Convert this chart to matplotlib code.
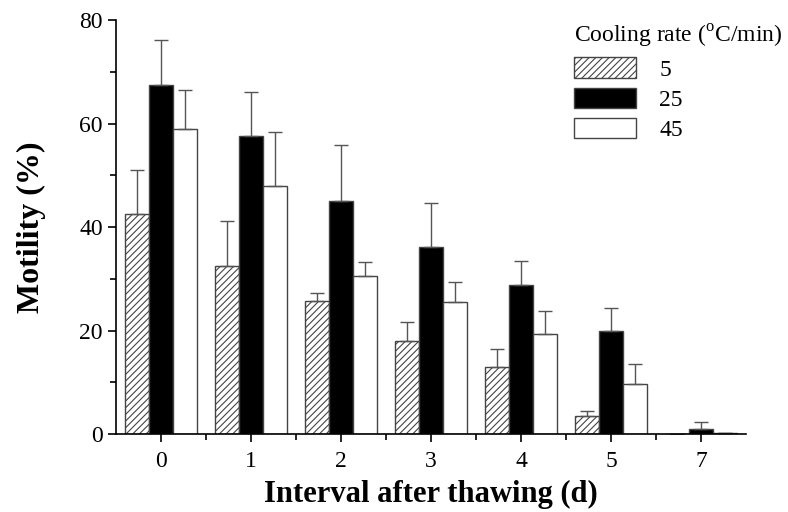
import numpy as np
import matplotlib.pyplot as plt

plt.rcParams['font.family'] = ['Liberation Serif', 'DejaVu Serif']
plt.rcParams['mathtext.fontset'] = 'custom'
plt.rcParams['mathtext.rm'] = 'Liberation Serif'
plt.rcParams['hatch.linewidth'] = 0.8

days = ['0', '1', '2', '3', '4', '5', '7']
rates = ['5', '25', '45']
mot_5 = [42.5, 32.5, 25.7, 18.0, 13.0, 3.5, 0.1]
mot_25 = [67.4, 57.5, 45.0, 36.1, 28.8, 20.0, 1.0]
mot_45 = [59.0, 48.0, 30.6, 25.6, 19.4, 9.6, 0.2]
err_5 = [8.5, 8.7, 1.5, 3.6, 3.4, 0.9, 0.0]
err_25 = [8.7, 8.6, 10.8, 8.5, 4.7, 4.3, 1.4]
err_45 = [7.5, 10.4, 2.6, 3.8, 4.4, 3.9, 0.0]

x = np.arange(len(days))
w = 0.267
edge = '#444444'

fig = plt.figure(figsize=(7.88, 5.12), dpi=100)
ax = fig.add_axes([0.147, 0.152, 0.8, 0.809])

ekw = dict(ecolor='#555555', elinewidth=1.0, capsize=5, capthick=1.0)
ax.bar(x - w, mot_5, w, color='white', edgecolor=edge, hatch='/////', linewidth=1.0,
       yerr=[np.zeros(len(x)), err_5], error_kw=ekw, label=rates[0])
ax.bar(x, mot_25, w, color='black', edgecolor=edge, linewidth=1.0,
       yerr=[np.zeros(len(x)), err_25], error_kw=ekw, label=rates[1])
ax.bar(x + w, mot_45, w, color='white', edgecolor=edge, linewidth=1.0,
       yerr=[np.zeros(len(x)), err_45], error_kw=ekw, label=rates[2])

ax.set_xlim(-0.5, 6.5)
ax.set_ylim(0, 80)
ax.set_xticks(x)
ax.set_xticklabels(days)
ax.set_xticks(x[:-1] + 0.5, minor=True)
ax.set_yticks([0, 20, 40, 60, 80])
ax.set_yticks([10, 30, 50, 70], minor=True)
ax.tick_params(axis='both', which='major', labelsize=17, length=6, width=1.2, direction='out')
ax.tick_params(axis='x', which='major', pad=6)
ax.tick_params(axis='both', which='minor', length=4, width=1.2, direction='out')
ax.spines['top'].set_visible(False)
ax.spines['right'].set_visible(False)
ax.spines['left'].set_linewidth(1.2)
ax.spines['bottom'].set_linewidth(1.2)

ax.set_xlabel('Interval after thawing (d)', fontsize=22, fontweight='bold', labelpad=6)
ax.set_ylabel('Motility (%)', fontsize=23, fontweight='bold', labelpad=24)

leg = ax.legend(title='Cooling rate ($^{\\mathrm{o}}$C/min)', loc='upper right',
                bbox_to_anchor=(1.014, 0.987), bbox_transform=fig.transFigure,
                frameon=False, fontsize=17, title_fontsize=17,
                handlelength=2.6, handleheight=0.95, handletextpad=1.0, labelspacing=0.3,
                borderpad=0.2)
leg._legend_box.align = 'left'

fig.savefig('out.png', dpi=100)
